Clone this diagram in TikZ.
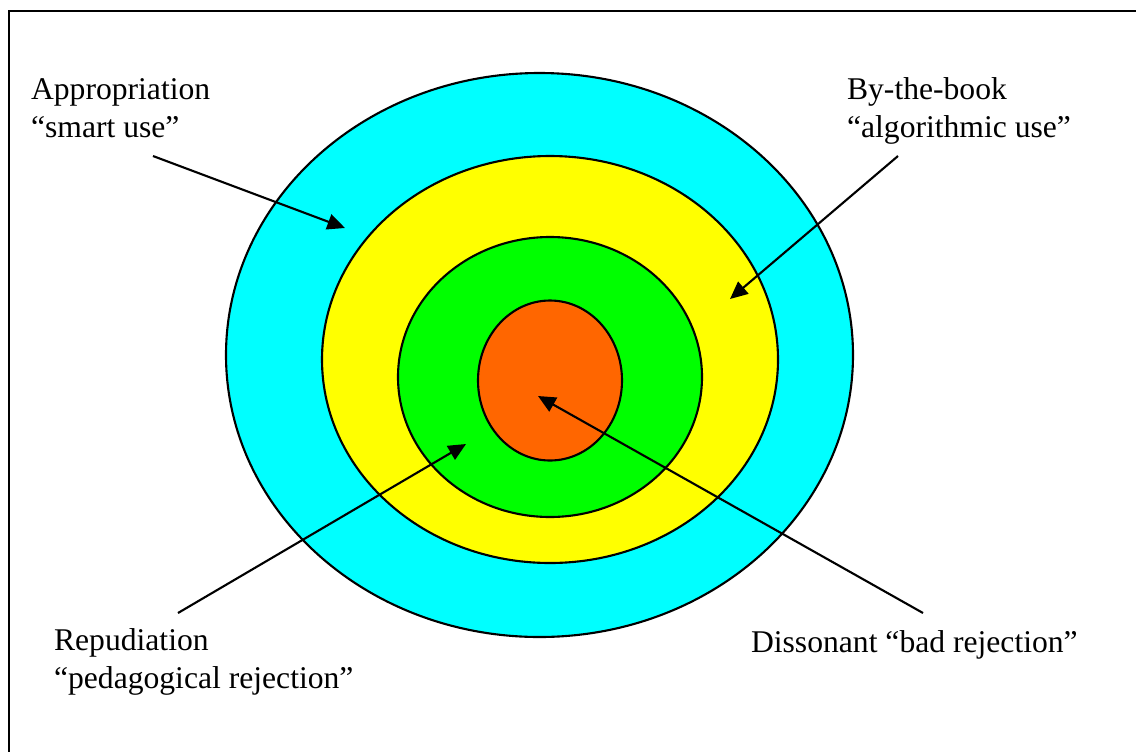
\documentclass[tikz,border=0pt]{standalone}
\usepackage{fontspec}
\setmainfont{Liberation Serif}
\usepackage{xcolor}
\usetikzlibrary{arrows.meta}

\definecolor{ringcyan}{RGB}{0,255,255}
\definecolor{ringyellow}{RGB}{255,255,0}
\definecolor{ringgreen}{RGB}{0,255,0}
\definecolor{ringorange}{RGB}{255,102,0}

\begin{document}
\begin{tikzpicture}[x=0.02cm, y=-0.02cm, line width=1.2pt,
  every node/.style={font=\fontsize{18}{21.5}\selectfont, align=left, inner sep=0pt},
  ring/.style={draw=black, fill=#1},
  pointer/.style={-{Triangle[length=10pt, width=9pt]}}]
\clip (0,0) rectangle (1136,751);
\fill[white] (0,0) rectangle (1136,751);
\draw (9,11) rectangle (1160,780);

% target rings
\draw[ring=ringcyan] (539.5,355) ellipse [x radius=313.5, y radius=282];
\draw[ring=ringyellow] (550,359.5) ellipse [x radius=228, y radius=203.5];
\draw[ring=ringgreen] (550,377) ellipse [x radius=152, y radius=140];
\draw[ring=ringorange] (550,380.5) ellipse [x radius=72, y radius=80];

% labels
\node[anchor=base west] (approp) at (30,137) {Appropriation\\``smart use''};
\node[anchor=base west] (book) at (846,137) {By-the-book\\``algorithmic use''};
\node[anchor=base west] (repud) at (53,688) {Repudiation\\``pedagogical rejection''};
\node[anchor=base west] (disson) at (750,652) {Dissonant ``bad rejection''};

\coordinate (approp-from) at (153,156);
\coordinate (approp-to) at (345,228);
\coordinate (book-from) at (898,156);
\coordinate (book-to) at (730,299);
\coordinate (repud-from) at (178,613);
\coordinate (repud-to) at (466,444);
\coordinate (disson-from) at (923,613);
\coordinate (disson-to) at (538,396);

\draw[pointer] (approp-from) -- (approp-to);
\draw[pointer] (book-from) -- (book-to);
\draw[pointer] (repud-from) -- (repud-to);
\draw[pointer] (disson-from) -- (disson-to);
\end{tikzpicture}
\end{document}
